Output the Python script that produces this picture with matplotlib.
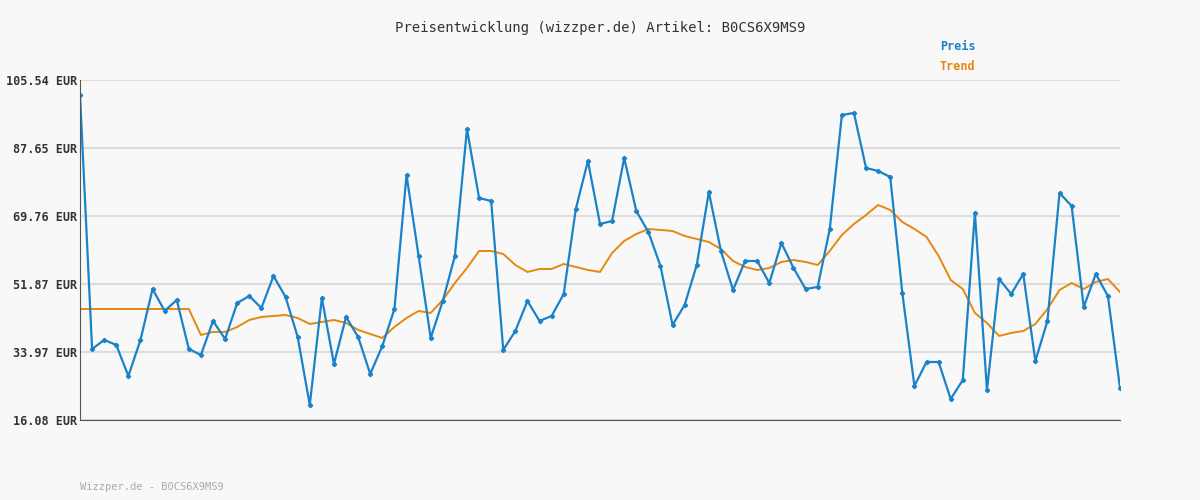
import matplotlib.pyplot as plt
import numpy as np

preis = [101.6, 34.77, 37.14, 35.82, 27.66, 37.14, 50.55, 44.77, 47.66, 34.77,
         33.19, 42.14, 37.40, 46.87, 48.71, 45.55, 53.97, 48.45, 37.93, 20.03,
         48.19, 30.82, 43.19, 37.93, 28.19, 35.56, 45.29, 80.55, 59.24, 37.66,
         47.40, 59.24, 92.65, 74.50, 73.71, 34.51, 39.50, 47.40, 42.14, 43.45,
         49.24, 71.60, 84.23, 67.66, 68.45, 85.02, 71.08, 65.55, 56.60, 41.08,
         46.35, 56.87, 76.08, 60.55, 50.29, 57.92, 57.92, 52.13, 62.66, 56.08,
         50.55, 51.08, 66.34, 96.33, 96.86, 82.39, 81.60, 80.02, 49.50, 25.03,
         31.35, 31.35, 21.61, 26.59, 70.55, 23.98, 53.18, 49.24, 54.50, 31.61,
         42.14, 75.81, 72.39, 45.82, 54.50, 48.71, 24.51]
trend = [45.29] * 10 + [
    38.45, 39.24, 39.24, 40.56, 42.40, 43.19, 43.45, 43.71, 42.92, 41.34,
    41.87, 42.40, 41.61, 39.77, 38.71, 37.66, 40.56, 42.92, 44.77, 44.24,
    47.66, 52.13, 56.08, 60.55, 60.55, 59.76, 56.87, 55.03, 55.82, 55.82,
    57.13, 56.34, 55.55, 55.03, 60.03, 63.18, 65.02, 66.34, 66.08, 65.81,
    64.50, 63.71, 62.92, 61.08, 57.92, 56.34, 55.55, 56.08, 57.66, 58.18,
    57.66, 56.87, 60.55, 64.76, 67.66, 70.02, 72.66, 71.34, 68.18, 66.34,
    64.24, 59.24, 52.92, 50.55, 44.24, 41.61, 38.19, 38.98, 39.50, 41.34,
    45.29, 50.29, 52.13, 50.55, 52.40, 53.18, 49.76]
yticks = [16.08, 33.97, 51.87, 69.76, 87.65, 105.54]

plt.rcParams['font.family'] = 'DejaVu Sans Mono'
fig = plt.figure(figsize=(12, 5), dpi=100, facecolor='#f8f8f8')
ax = fig.add_axes([80/1200, 80/500, 1040/1200, 340/500])
ax.set_facecolor('#f8f8f8')
x = np.arange(len(preis))
ax.plot(x, trend, color='#e8870e', lw=1.4)
ax.plot(x, preis, color='#1a82c8', lw=1.6, marker='D', ms=2.2)
ax.set_xlim(0, len(preis) - 1)
ax.set_ylim(16.08, 105.54)
ax.set_yticks(yticks)
ax.set_yticklabels(['%.2f EUR' % v for v in yticks], fontsize=8.5, weight='bold')
ax.set_xticks([])
ax.grid(axis='y', color='#dddddd', lw=1.5)
ax.set_axisbelow(True)
for s in ['top', 'right']:
    ax.spines[s].set_visible(False)
ax.spines['left'].set_color('#555555')
ax.spines['bottom'].set_color('#555555')
ax.tick_params(axis='y', length=0, pad=2, colors='#333333')

fig.text(0.5, 1 - 28/500, 'Preisentwicklung (wizzper.de) Artikel: B0CS6X9MS9',
         ha='center', va='center', fontsize=10, color='#333333')
fig.text(940/1200, 1 - 47/500, 'Preis', color='#1a82c8', fontsize=8.5, weight='bold', va='center')
fig.text(940/1200, 1 - 67/500, 'Trend', color='#e8870e', fontsize=8.5, weight='bold', va='center')
fig.text(80/1200, 1 - 487/500, 'Wizzper.de - B0CS6X9MS9', color='#aaaaaa', fontsize=7.5, va='center')
fig.savefig('out.png', facecolor=fig.get_facecolor())
